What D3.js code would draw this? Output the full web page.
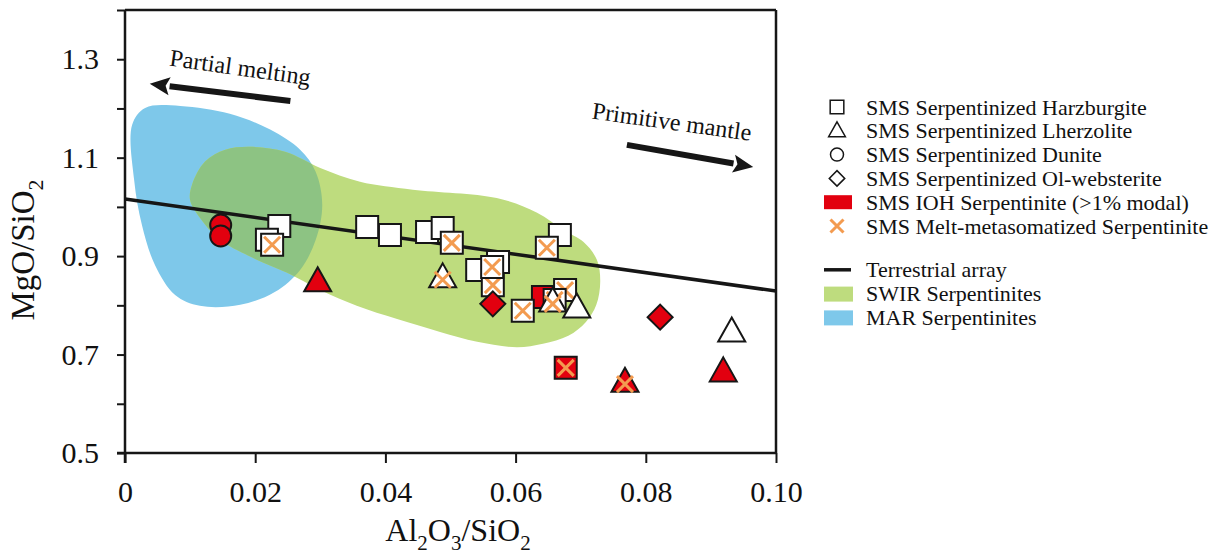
<!DOCTYPE html>
<html><head><meta charset="utf-8">
<script src="https://cdn.jsdelivr.net/npm/d3@7"></script>
<style>
body{margin:0;background:#fff}
svg{display:block}
text{font-family:"Liberation Serif","Times New Roman",serif;fill:#111}
</style>
</head><body>
<svg id="c" width="1224" height="559"></svg>
<script>
// ---------- data ----------
const xTicks = [0, 0.02, 0.04, 0.06, 0.08, 0.10];
const xTickLabels = ["0", "0.02", "0.04", "0.06", "0.08", "0.10"];
const yTicks = [0.5, 0.6, 0.7, 0.8, 0.9, 1.0, 1.1, 1.2, 1.3, 1.4];
const yTickLabels = ["0.5", "", "0.7", "", "0.9", "", "1.1", "", "1.3", ""];

// field outlines (Al2O3/SiO2, MgO/SiO2)
const marField = [
  [0.0011,1.167],[0.0031,1.201],[0.0085,1.205],[0.0161,1.189],[0.0223,1.157],
  [0.0269,1.116],[0.0293,1.071],[0.0303,1.004],[0.0293,0.933],[0.0269,0.872],
  [0.0230,0.827],[0.0177,0.801],[0.0115,0.799],[0.0077,0.821],[0.0046,0.882],
  [0.0026,0.963],[0.0014,1.055]
];
const swirField = [
  [0.0103,1.045],[0.0123,1.092],[0.0154,1.116],[0.0192,1.122],[0.0246,1.112],
  [0.0300,1.079],[0.0361,1.051],[0.0442,1.035],[0.0571,1.018],[0.0633,0.988],
  [0.0673,0.953],[0.0704,0.929],[0.0725,0.892],[0.0730,0.848],[0.0724,0.801],
  [0.0708,0.766],[0.0681,0.738],[0.0642,0.722],[0.0602,0.715],[0.0541,0.726],
  [0.0484,0.746],[0.0418,0.772],[0.0356,0.799],[0.0300,0.831],[0.0249,0.866],
  [0.0197,0.896],[0.0146,0.933],[0.0115,0.978],[0.0100,1.014]
];
const terrestrialArray = [[0, 1.016], [0.10, 0.829]];

// samples
const harzburgite      = [[0.0237,0.961],[0.0218,0.933],[0.0372,0.959],[0.0407,0.943],[0.0464,0.949],
                          [0.0488,0.957],[0.0541,0.872],[0.0573,0.888],[0.0668,0.943]];
const harzburgiteIOH   = [[0.0642,0.817]];
const harzburgiteMelt  = [[0.0226,0.923],[0.0502,0.927],[0.0565,0.841],[0.0564,0.878],[0.0648,0.917],
                          [0.0611,0.789],[0.0676,0.831],[0.0660,0.811]];
const harzburgiteIOHMelt = [[0.0677,0.673]];
const lherzolite       = [[0.0694,0.795],[0.0932,0.746]];
const lherzoliteMelt   = [[0.0488,0.856],[0.0657,0.807]];
const lherzoliteIOH    = [[0.0296,0.848],[0.0919,0.665]];
const lherzoliteIOHMelt= [[0.0768,0.644]];
const duniteIOH        = [[0.0147,0.963],[0.0147,0.941]];
const olWebsteriteIOH  = [[0.0565,0.803],[0.0822,0.776]];

const legendLabels = ["SMS Serpentinized Harzburgite","SMS Serpentinized Lherzolite",
  "SMS Serpentinized Dunite","SMS Serpentinized Ol-websterite",
  "SMS IOH Serpentinite (>1% modal)","SMS Melt-metasomatized Serpentinite",
  "Terrestrial array","SWIR Serpentinites","MAR Serpentinites"];

const annotations = [
  {text:"Partial melting", at:[0.0177,1.283], from:[0.0254,1.215], to:[0.0038,1.250]},
  {text:"Primitive mantle", at:[0.0840,1.173], from:[0.0771,1.126], to:[0.0965,1.081]}
];

// ---------- styles ----------
const RED = "#E2000F", ORANGE = "#F39B50", BLUE = "#7EC8EA", GREEN = "#BEDC7E", OVERLAP = "#8DC383", INK = "#161616";

const svg = d3.select("#c");
const x = d3.scaleLinear().domain([0, 0.10]).range([125, 776]);
const y = d3.scaleLinear().domain([0.5, 1.4]).range([453, 10]);

// fields
const area = d3.line().x(d=>x(d[0])).y(d=>y(d[1])).curve(d3.curveCatmullRomClosed.alpha(0.5));
svg.append("clipPath").attr("id","marClip").append("path").attr("d", area(marField));
svg.append("path").attr("d", area(marField)).attr("fill", BLUE);
svg.append("path").attr("d", area(swirField)).attr("fill", GREEN);
svg.append("path").attr("d", area(swirField)).attr("fill", OVERLAP).attr("clip-path","url(#marClip)");

// terrestrial array
svg.append("line")
  .attr("x1", x(terrestrialArray[0][0])).attr("y1", y(terrestrialArray[0][1]))
  .attr("x2", x(terrestrialArray[1][0])).attr("y2", y(terrestrialArray[1][1]))
  .attr("stroke", INK).attr("stroke-width", 3.5);

// annotations
annotations.forEach(a => {
  const x1 = x(a.from[0]), y1 = y(a.from[1]), x2 = x(a.to[0]), y2 = y(a.to[1]);
  const ang = Math.atan2(y2 - y1, x2 - x1);
  const hl = 20, hw = 9;
  const bx = x2 - hl*Math.cos(ang), by = y2 - hl*Math.sin(ang);
  svg.append("line").attr("x1",x1).attr("y1",y1).attr("x2",bx).attr("y2",by)
    .attr("stroke", INK).attr("stroke-width", 6);
  const px = -Math.sin(ang), py = Math.cos(ang);
  svg.append("path").attr("fill", INK)
    .attr("d", `M${x2},${y2}L${bx+hw*px},${by+hw*py}L${bx+4*Math.cos(ang)},${by+4*Math.sin(ang)}L${bx-hw*px},${by-hw*py}Z`);
  const tx = x(a.at[0]), ty = y(a.at[1]);
  svg.append("text").attr("x", tx).attr("y", ty)
    .attr("transform", `rotate(8,${tx},${ty})`)
    .attr("text-anchor","middle").attr("dominant-baseline","central")
    .attr("font-size", 24).text(a.text);
});

// marker builders
const sq = s => `M${-s/2},${-s/2}h${s}v${s}h${-s}Z`;
const tri = (w,h) => `M0,${-h*0.6}L${w/2},${h*0.4}L${-w/2},${h*0.4}Z`;
const dia = r => `M0,${-r}L${r},0L0,${r}L${-r},0Z`;

function drawShape(g, shape, fill, big) {
  const k = big ? 1 : 0.62;
  if (shape === "circle") {
    g.append("circle").attr("r", 10.5*k).attr("fill", fill).attr("stroke", INK).attr("stroke-width", big?2:1.5);
  } else {
    const d = shape === "square" ? sq(22*k) : shape === "triangle" ? tri(27*k, 24*k) : dia(12.5*k);
    g.append("path").attr("d", d).attr("fill", fill).attr("stroke", INK).attr("stroke-width", big?2:1.5)
      .attr("stroke-linejoin","miter");
  }
}
function drawX(g, r, w) {
  g.append("path").attr("d", `M${-r},${-r}L${r},${r}M${-r},${r}L${r},${-r}`)
    .attr("stroke", ORANGE).attr("stroke-width", w).attr("fill","none");
}
function plot(data, shape, fill, melt, xOff) {
  data.forEach(d => {
    const g = svg.append("g").attr("transform", `translate(${x(d[0])},${y(d[1])})`);
    drawShape(g, shape, fill, true);
    if (melt) { const gx = shape==="triangle" ? g.append("g").attr("transform","translate(0,2)") : g; drawX(gx, 8, 3); }
  });
}

plot(harzburgite, "square", "#fff", false);
plot(harzburgiteIOH, "square", RED, false);
plot(harzburgiteMelt, "square", "#fff", true);
plot(harzburgiteIOHMelt, "square", RED, true);
plot(lherzoliteMelt, "triangle", "#fff", true);
plot(lherzolite, "triangle", "#fff", false);
plot(lherzoliteIOH, "triangle", RED, false);
plot(lherzoliteIOHMelt, "triangle", RED, true);
plot(duniteIOH, "circle", RED, false);
plot(olWebsteriteIOH, "diamond", RED, false);

// frame
svg.append("line").attr("x1", x(0)).attr("x2", x(0.10)).attr("y1", y(1.4)).attr("y2", y(1.4)).attr("stroke", INK).attr("stroke-width", 2.5);
svg.append("line").attr("x1", x(0.10)).attr("x2", x(0.10)).attr("y1", y(1.4)).attr("y2", y(0.5)).attr("stroke", INK).attr("stroke-width", 2.5);

// axes
const xAxis = svg.append("g").attr("transform", `translate(0,${y(0.5)})`)
  .call(d3.axisBottom(x).tickValues(xTicks).tickSize(10).tickPadding(18)
        .tickFormat((d,i) => xTickLabels[i]));
const yAxis = svg.append("g").attr("transform", `translate(${x(0)},0)`)
  .call(d3.axisLeft(y).tickValues(yTicks).tickSize(8).tickPadding(18)
        .tickFormat((d,i) => yTickLabels[i]));
[xAxis, yAxis].forEach(a => {
  a.select(".domain").attr("stroke", INK).attr("stroke-width", 2.5);
  a.selectAll(".tick line").attr("stroke", INK).attr("stroke-width", 2);
  a.selectAll(".tick text").attr("font-size", 30).attr("font-family", "Liberation Serif").attr("fill", "#111");
});
xAxis.select(".domain").attr("d", `M${x(0)-8},0H${x(0.10)}`);
yAxis.select(".domain").attr("d", `M0,${y(0.5)+10}V${y(1.4)}`);

// axis titles
const xt = svg.append("text").attr("x", 458).attr("y", 541).attr("text-anchor","middle").attr("font-size", 32);
xt.append("tspan").text("Al");
xt.append("tspan").attr("font-size", 21).attr("dy", 9).text("2");
xt.append("tspan").attr("dy", -9).text("O");
xt.append("tspan").attr("font-size", 21).attr("dy", 9).text("3");
xt.append("tspan").attr("dy", -9).text("/SiO");
xt.append("tspan").attr("font-size", 21).attr("dy", 9).text("2");

const yt = svg.append("text").attr("transform", "translate(34,250) rotate(-90)").attr("text-anchor","middle").attr("font-size", 33);
yt.append("tspan").text("MgO/SiO");
yt.append("tspan").attr("font-size", 22).attr("dy", 9).text("2");

// legend
const leg = svg.append("g");
const rowY = i => 107 + i*23.8 + (i >= 6 ? 20 : 0);
const legShapes = ["square","triangle","circle","diamond"];
legendLabels.forEach((lab, i) => {
  const g = leg.append("g").attr("transform", `translate(837,${rowY(i)})`);
  if (i < 4) drawShape(g, legShapes[i], "#fff", false);
  else if (i === 4) g.append("rect").attr("x",-13).attr("y",-7).attr("width",28).attr("height",14).attr("fill",RED);
  else if (i === 5) drawX(g, 6.5, 3);
  else if (i === 6) g.append("line").attr("x1",-13).attr("x2",14).attr("stroke",INK).attr("stroke-width",3.5);
  else g.append("rect").attr("x",-13).attr("y",-7).attr("width",29).attr("height",15).attr("fill", i===7?GREEN:BLUE);
  leg.append("text").attr("x", 866).attr("y", rowY(i)).attr("dominant-baseline","central")
    .attr("font-size", 22).text(lab);
});
</script>
</body></html>
